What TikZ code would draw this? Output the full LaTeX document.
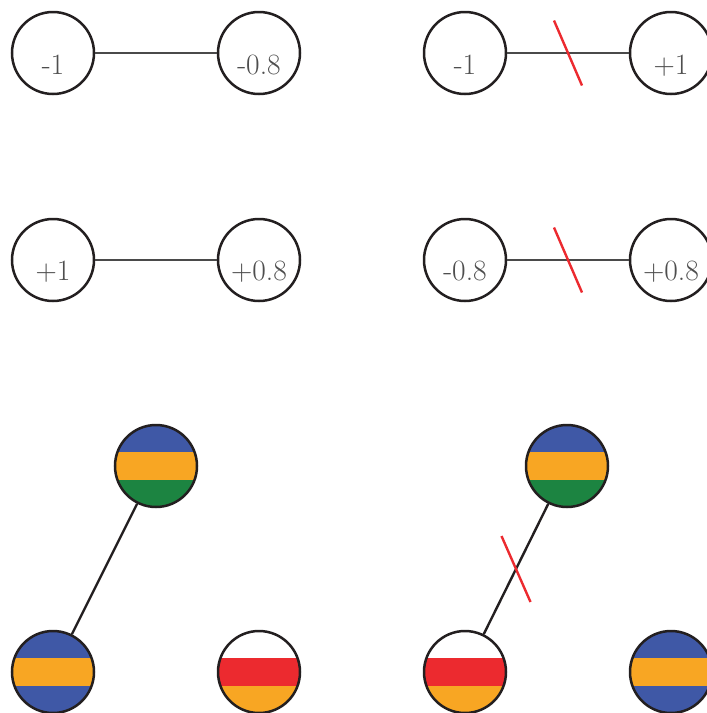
\documentclass[tikz,border=0pt]{standalone}
\usetikzlibrary{calc}
\definecolor{cblue}{HTML}{3F58A6}
\definecolor{corange}{HTML}{F8A623}
\definecolor{cgreen}{HTML}{1C8441}
\definecolor{cred}{HTML}{EC2A2F}
\definecolor{edge}{HTML}{231F20}
\definecolor{lnk}{HTML}{4A4A4A}
\definecolor{txt}{HTML}{4E4E4E}
\begin{document}
\begin{tikzpicture}[x=1pt,y=1pt,
  ball/.style={circle, draw=edge, line width=2.5pt, minimum size=82pt, inner sep=0pt},
  tri/.style n args={3}{path picture={
    \fill[#1] ($(path picture bounding box.center)+(-50,14)$) rectangle ($(path picture bounding box.center)+(50,50)$);
    \fill[#2] ($(path picture bounding box.center)+(-50,-14)$) rectangle ($(path picture bounding box.center)+(50,14)$);
    \fill[#3] ($(path picture bounding box.center)+(-50,-50)$) rectangle ($(path picture bounding box.center)+(50,-14)$);
  }},
  lbl/.style={anchor=base, text=txt, inner sep=0pt, font=\fontsize{29.5}{29.5}\selectfont},
  link/.style={draw=lnk, line width=2.6pt},
  blink/.style={draw=edge, line width=2.4pt},
  slash/.style={draw=cred, line width=2.4pt}]
\useasboundingbox (0,0) rectangle (707,-713);

% top row
\node[ball] (a1) at (53,-53) {};
\node[ball] (a2) at (259,-53) {};
\node[ball] (a3) at (465,-53) {};
\node[ball] (a4) at (671,-53) {};
\node[lbl] (ta1) at ($(a1)+(0,-21.5)$) {-1};
\node[lbl] (ta2) at ($(a2)+(0,-21.5)$) {-0.8};
\node[lbl] (ta3) at ($(a3)+(0,-21.5)$) {-1};
\node[lbl] (ta4) at ($(a4)+(0,-21.5)$) {+1};
\draw[link] (a1) -- (a2);
\draw[link] (a3) -- (a4);
\draw[slash] ($(a3)!0.5!(a4)$) ++(-14,32.5) -- ++(28,-65);

% second row
\node[ball] (b1) at (53,-260) {};
\node[ball] (b2) at (259,-260) {};
\node[ball] (b3) at (465,-260) {};
\node[ball] (b4) at (671,-260) {};
\node[lbl] (tb1) at ($(b1)+(0,-20.5)$) {+1};
\node[lbl] (tb2) at ($(b2)+(0,-20.5)$) {+0.8};
\node[lbl] (tb3) at ($(b3)+(0,-20.5)$) {-0.8};
\node[lbl] (tb4) at ($(b4)+(0,-20.5)$) {+0.8};
\draw[link] (b1) -- (b2);
\draw[link] (b3) -- (b4);
\draw[slash] ($(b3)!0.5!(b4)$) ++(-14,32.5) -- ++(28,-65);

% bottom left
\node[ball, tri={cblue}{corange}{cgreen}] (c1) at (156,-466) {};
\node[ball, tri={cblue}{corange}{cblue}] (c2) at (53,-672) {};
\node[ball, tri={white}{cred}{corange}] (c3) at (259,-672) {};
\draw[blink] (c1) -- (c2);

% bottom right
\node[ball, tri={cblue}{corange}{cgreen}] (d1) at (567,-466) {};
\node[ball, tri={white}{cred}{corange}] (d2) at (465,-672) {};
\node[ball, tri={cblue}{corange}{cblue}] (d3) at (671,-672) {};
\draw[blink] (d1) -- (d2);
\draw[slash] ($(d1)!0.5!(d2)$) ++(-14.5,33) -- ++(29,-66);
\end{tikzpicture}
\end{document}
